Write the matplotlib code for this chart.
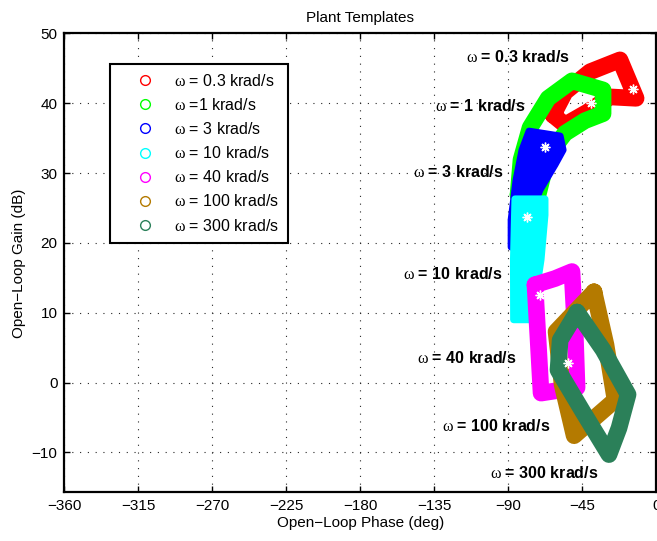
import matplotlib
matplotlib.use("Agg")
import matplotlib.pyplot as plt
from matplotlib.lines import Line2D
import numpy as np

plt.rcParams['font.family'] = ['Liberation Sans', 'DejaVu Sans']
plt.rcParams['mathtext.fontset'] = 'custom'
plt.rcParams['mathtext.rm'] = 'Liberation Serif'
plt.rcParams['mathtext.it'] = 'Liberation Serif:italic'
plt.rcParams['mathtext.bf'] = 'Liberation Serif:bold'

# ---- frequencies and styling --------------------------------------------
freq_text = ['0.3', '1', '3', '10', '40', '100', '300']
legend_labels = [r'$\mathrm{\omega}$ = 0.3 krad/s', r'$\mathrm{\omega}$ =1 krad/s',
                 r'$\mathrm{\omega}$ = 3 krad/s', r'$\mathrm{\omega}$ = 10 krad/s',
                 r'$\mathrm{\omega}$ = 40 krad/s', r'$\mathrm{\omega}$ = 100 krad/s',
                 r'$\mathrm{\omega}$ = 300 krad/s']
colors = ['#ff0000', '#00ff00', '#0000ff', '#00ffff', '#ff00ff', '#b47a00', '#2b8059']

# ---- template boundaries (phase in deg, gain in dB) ---------------------
t03_phase = [-62.8, -55.5, -40.3, -22.1, -12.3, -28.1, -42.1, -55.5]
t03_gain = [38.3, 41.6, 44.5, 46.2, 40.7, 40.9, 38.7, 36.9]

t1_phase = [-84.1, -82.3, -76.8, -65.8, -51.3, -32.4, -32.4, -43.4, -55.5, -63.4, -68.9, -71.9]
t1_gain = [26.9, 31.9, 36.5, 40.7, 43.2, 41.9, 38.5, 37.5, 35.7, 33.3, 29.7, 26.9]

t3_phase = [-77.4, -58.5, -56.7, -61.6, -70.7, -76.8, -81.7, -88.3, -88.3, -85.3, -81.7]
t3_gain = [36.0, 35.3, 33.3, 31.2, 27.6, 24.0, 19.7, 19.4, 23.3, 29.0, 33.3]

t10_phase = [-86.0, -67.7, -67.7, -70.1, -73.8, -76.8, -86.8, -86.9]
t10_gain = [26.3, 26.3, 24.0, 17.6, 11.8, 9.0, 9.0, 17.6]

t40_phase = [-73.8, -61.6, -51.3, -49.4, -48.2, -70.1, -71.9]
t40_gain = [14.0, 14.9, 15.9, 7.6, -0.7, -1.5, 6.1]

t100_phase = [-37.9, -61.0, -57.3, -50.0, -25.1, -30.6]
t100_gain = [13.0, 7.3, -0.3, -7.6, -2.5, 5.4]

t300_phase = [-48.2, -32.4, -17.2, -22.7, -28.8, -44.6, -59.8, -58.5]
t300_gain = [10.1, 4.7, -1.7, -6.5, -10.3, -4.2, 1.8, 6.1]

# nominal plant at each frequency
nominal_phase = [-14.3, -39.9, -67.7, -78.6, -70.7, -58.5, -53.7]
nominal_gain = [42.0, 40.0, 33.7, 23.7, 12.5, 6.8, 2.8]

# annotation anchors (left edge of each label)
label_phase = [-115.7, -134.6, -147.9, -154.0, -145.5, -130.3, -101.4]
label_gain = [46.6, 39.6, 30.2, 15.6, 3.5, -6.2, -12.9]

x_ticks = [-360, -315, -270, -225, -180, -135, -90, -45, 0]
y_ticks = [-10, 0, 10, 20, 30, 40, 50]

templates = [
    (t03_phase, t03_gain, 'band'),
    (t1_phase, t1_gain, 'band'),
    (t3_phase, t3_gain, 'fill'),
    (t10_phase, t10_gain, 'fill'),
    (t40_phase, t40_gain, 'band'),
    (t100_phase, t100_gain, 'band'),
    (t300_phase, t300_gain, 'band'),
]

fig = plt.figure(figsize=(6.57, 5.41), dpi=100)
ax = fig.add_axes([0.0979, 0.0900, 0.9011, 0.8484])

for i, (ph, g, kind) in enumerate(templates):
    z = 3 + i
    if kind == 'fill':
        ax.fill(ph, g, facecolor=colors[i], edgecolor=colors[i], lw=5,
                joinstyle='round', zorder=z)
    else:
        ax.plot(np.r_[ph, ph[0]], np.r_[g, g[0]], color=colors[i], lw=12,
                solid_joinstyle='round', solid_capstyle='round', zorder=z)
    ax.plot(nominal_phase[i], nominal_gain[i], ls='none', marker=(8, 2, 0),
            ms=7, mec='white', mfc='white', mew=1.0, zorder=z + 0.5)

for i in range(len(freq_text)):
    ax.text(label_phase[i], label_gain[i],
            r'$\mathrm{\omega}$ = ' + freq_text[i] + ' krad/s',
            fontsize=11.5, fontweight='bold', ha='left', va='center', zorder=20)

ax.set_xlim(-360, 0)
ax.set_ylim(-15.7, 50)
ax.set_xticks(x_ticks)
ax.set_yticks(y_ticks)
ax.grid(True, color='0.15', linestyle=(0, (1, 6)), lw=0.8)
ax.set_axisbelow(True)
ax.tick_params(direction='in', length=4, width=1, top=True, right=True,
               labelsize=11, pad=5)
for s in ax.spines.values():
    s.set_linewidth(1.6)
    s.set_zorder(30)

ax.set_xlabel('Open\u2212Loop Phase (deg)', fontsize=11, labelpad=2)
ax.set_ylabel('Open\u2212Loop Gain (dB)', fontsize=11, labelpad=4)
ax.set_title('Plant Templates', fontsize=11, pad=8)

handles = [Line2D([], [], ls='none', marker='o', mfc='none', mec=c, ms=7, mew=1)
           for c in colors]
leg = ax.legend(handles, legend_labels, loc='upper left',
                bbox_to_anchor=(0.0772, 0.934), borderaxespad=0,
                fontsize=11.5, frameon=True, fancybox=False, edgecolor='black',
                framealpha=1, handlelength=3.24, handletextpad=0.22,
                borderpad=0.57, labelspacing=0.51)
leg.get_frame().set_linewidth(1.5)
leg.set_zorder(40)

fig.savefig('out.png', dpi=100)
